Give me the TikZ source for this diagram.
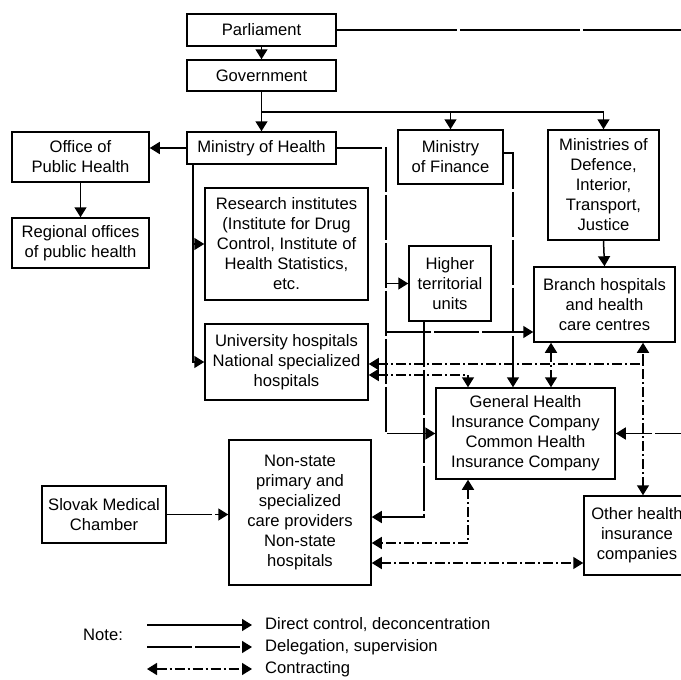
\documentclass[tikz,border=0pt]{standalone}
\usepackage{fontspec}
\setmainfont{Liberation Sans}
\usetikzlibrary{arrows.meta,calc}
\begin{document}
\begin{tikzpicture}[x=1pt,y=-1pt,
  box/.style={draw,line width=1.5pt,align=center,inner sep=0pt,fill=white,font=\fontsize{16.6}{20}\selectfont},
  txt/.style={inner sep=0pt,anchor=west,font=\fontsize{16.6}{20}\selectfont},
  con/.style={line width=1.5pt},
  direct/.style={con,-{Triangle[length=10pt,width=12pt]}},
  deleg/.style={con,dash pattern=on 45pt off 3pt,-{Triangle[length=10pt,width=12pt]}},
  delegline/.style={con,dash pattern=on 120pt off 3pt},
  contr/.style={con,dash pattern=on 10pt off 3pt on 2pt off 3pt,{Triangle[length=10pt,width=12pt]}-{Triangle[length=10pt,width=12pt]}},
  controne/.style={con,dash pattern=on 10pt off 3pt on 2pt off 3pt,-{Triangle[length=10pt,width=12pt]}}
]
\clip (0,0) rectangle (681,680);
\fill[white] (0,0) rectangle (681,680);

% boxes
\node[box,minimum width=149pt,minimum height=32pt] (parl) at (261.5,30) {Parliament};
\node[box,minimum width=149pt,minimum height=31pt] (gov) at (261.5,75.5) {Government};
\node[box,minimum width=149pt,minimum height=32pt] (moh) at (261.5,148) {Ministry of Health};
\node[box,minimum width=137pt,minimum height=50pt] (oph) at (80.5,157) {Office of\\Public Health};
\node[box,minimum width=137pt,minimum height=50pt] (reg) at (80.5,243) {Regional offices\\of public health};
\node[box,minimum width=163pt,minimum height=112pt] (res) at (286.5,244) {Research institutes\\(Institute for Drug\\Control, Institute of\\Health Statistics,\\etc.};
\node[box,minimum width=163pt,minimum height=76pt] (uni) at (286.5,362) {University hospitals\\National specialized\\hospitals};
\node[box,minimum width=105pt,minimum height=54pt] (fin) at (450.5,157) {Ministry\\of Finance};
\node[box,minimum width=111pt,minimum height=110pt] (def) at (603.5,185) {Ministries of\\Defence,\\Interior,\\Transport,\\Justice};
\node[box,minimum width=82pt,minimum height=75pt] (hig) at (450,283.5) {Higher\\territorial\\units};
\node[box,minimum width=141pt,minimum height=75pt] (bra) at (604.5,304.5) {Branch hospitals\\and health\\care centres};
\node[box,minimum width=179pt,minimum height=91pt] (ghi) at (525.5,433.5) {General Health\\Insurance Company\\Common Health\\Insurance Company};
\node[box,minimum width=106pt,minimum height=79pt] (oth) at (637,535.5) {Other health\\insurance\\companies};
\node[box,minimum width=142pt,minimum height=145pt] (non) at (300,512.5) {Non-state\\primary and\\specialized\\care providers\\Non-state\\hospitals};
\node[box,minimum width=124pt,minimum height=57pt] (smc) at (104,514.5) {Slovak Medical\\Chamber};

% helper coordinates
\coordinate (gb) at (261.5,112);
\coordinate (ml) at (193,164);
\coordinate (mx) at (386,0);
\coordinate (fx) at (513,153);
\coordinate (pr) at (700,0);
\coordinate (hx) at (424,517);
\coordinate (cx) at (643,364);
\coordinate (cy) at (468,375);
\coordinate (cz) at (468,543);
\coordinate (cb) at (551,0);
\coordinate (cn) at (0,563);
\coordinate (br) at (0,332);

% direct control
\draw[direct] (parl.south) -- (gov.north);
\draw[direct] (gov.south) -- (moh.north);
\draw[direct] (gb) -| (def.north);
\draw[direct] (gb -| fin.north) -- (fin.north);
\draw[direct] (moh.west) -- (moh.west -| oph.east);
\draw[direct] (oph.south) -- (reg.north);
\draw[direct] (ml) |- (res.west);
\draw[direct] (ml) |- (uni.west);
\draw[direct] (def.south) -- (bra.north);

% delegation, supervision
\draw[delegline] (parl.east) -| (pr |- ghi.east);
\draw[deleg] (pr |- ghi.east) -- (ghi.east);
\draw[deleg] (moh.east) -| (mx |- ghi.west) -- (ghi.west);
\draw[deleg] (mx |- hig.west) -- (hig.west);
\draw[deleg] (mx |- br) -- (bra.west |- br);
\draw[deleg] (fin.east |- fx) -- (fx) -- (fx |- ghi.north);
\draw[deleg] (hig.south -| hx) -- (hx) -- (hx -| non.east);
\draw[deleg] (smc.east) -- (smc.east -| non.west);

% contracting
\draw[contr] (uni.east |- cx) -- (cx) -- (cx |- oth.north);
\draw[controne] (cx) -- (cx |- bra.south);
\draw[contr] (uni.east |- cy) -- (cy) -- (cy |- ghi.north);
\draw[contr] (bra.south -| cb) -- (ghi.north -| cb);
\draw[contr] (ghi.south -| cz) -- (cz) -- (cz -| non.east);
\draw[contr] (non.east |- cn) -- (oth.west |- cn);

% legend
\node[txt] (note) at (83,635) {Note:};
\coordinate (la1) at (147,625); \coordinate (lb1) at (252,625);
\coordinate (la2) at (147,647); \coordinate (lb2) at (252,647);
\coordinate (la3) at (147,669); \coordinate (lb3) at (252,669);
\draw[direct] (la1) -- (lb1);
\draw[deleg] (la2) -- (lb2);
\draw[contr] (la3) -- (lb3);
\node[txt] (t1) at (265,625) {Direct control, deconcentration};
\node[txt] (t2) at (265,647) {Delegation, supervision};
\node[txt] (t3) at (265,669) {Contracting};
\end{tikzpicture}
\end{document}
